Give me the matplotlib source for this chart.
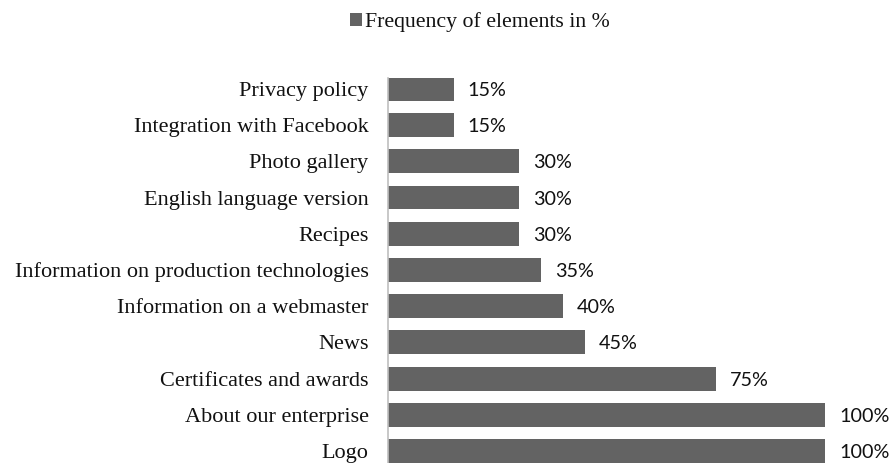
import matplotlib
matplotlib.use('Agg')
import matplotlib.pyplot as plt

# categories listed bottom to top
categories = ['Logo', 'About our enterprise', 'Certificates and awards', 'News',
              'Information on a webmaster', 'Information on production technologies',
              'Recipes', 'English language version', 'Photo gallery',
              'Integration with Facebook', 'Privacy policy']
values = [100, 100, 75, 45, 40, 35, 30, 30, 30, 15, 15]
series_name = 'Frequency of elements in %'

bar_color = '#636363'

fig = plt.figure(figsize=(8.94, 4.63), dpi=100)
ax = fig.add_axes([388 / 894, 0.0, 437 / 894, 385 / 463])

y = range(len(categories))
bars = ax.barh(y, values, height=0.66, color=bar_color, label=series_name)

for b, v in zip(bars, values):
    ax.text(b.get_width() + 3.2, b.get_y() + b.get_height() / 2, f'{v}%',
            va='center_baseline', ha='left', fontsize=14.2, family='Lato', color='#111111')

ax.set_xlim(0, 100)
ax.set_ylim(-0.33, 10.3)
ax.set_yticks(list(y))
ax.set_yticklabels(categories, family='Liberation Serif', fontsize=16, color='#111111')
ax.tick_params(axis='y', length=0, pad=14)
ax.set_xticks([])

for s in ['top', 'right', 'bottom']:
    ax.spines[s].set_visible(False)
ax.spines['left'].set_color('#bfbfbf')
ax.spines['left'].set_linewidth(1.2)

fig.legend(handles=[bars], labels=[series_name], loc='center', bbox_to_anchor=(480 / 894, 1 - 22 / 463),
           frameon=False, prop={'family': 'Liberation Serif', 'size': 15.7},
           handlelength=0.55, handleheight=0.55, handletextpad=0.15, labelcolor='#111111')

fig.savefig('out.png', dpi=100)
